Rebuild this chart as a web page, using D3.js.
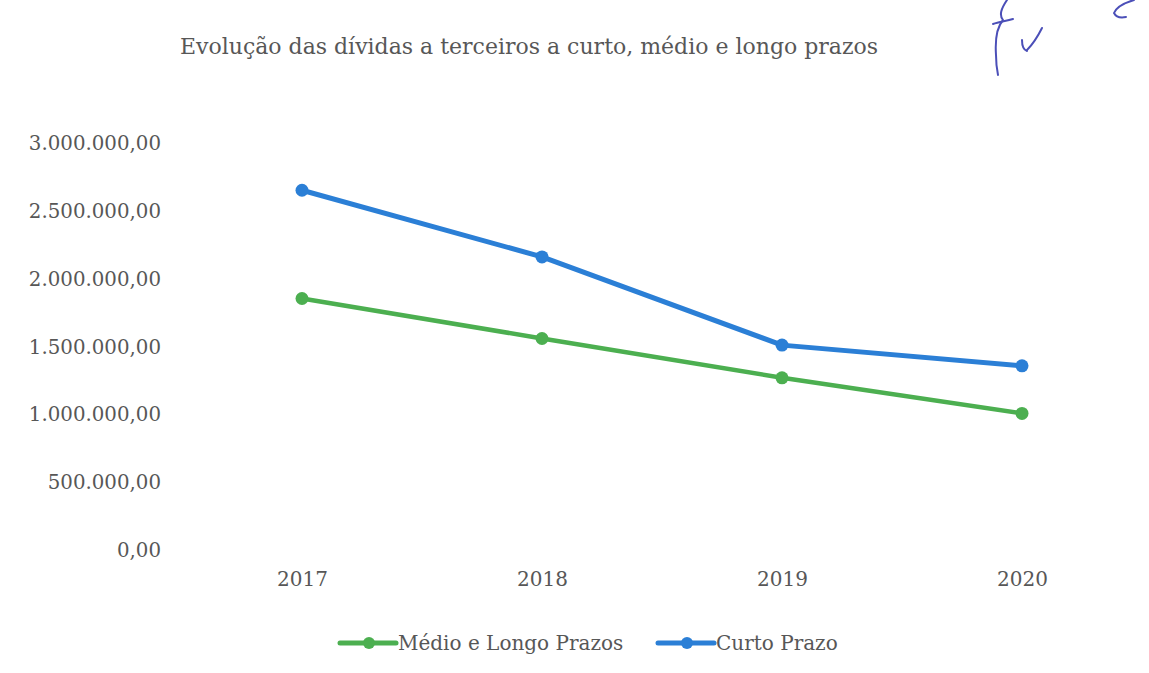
<!DOCTYPE html>
<html>
<head>
<meta charset="utf-8">
<script src="https://cdn.jsdelivr.net/npm/d3@7"></script>
<style>
  html, body { margin: 0; padding: 0; background: #ffffff; }
  svg { display: block; }
  text { font-family: "DejaVu Serif", "Liberation Serif", serif; fill: #575757; }
</style>
</head>
<body>
<svg id="chart" width="1149" height="673"></svg>
<script>
// Dívidas a terceiros (euros) por ano
const years = ["2017", "2018", "2019", "2020"];
const medioLongo = [1856000, 1561000, 1271000, 1008000];
const curto = [2655000, 2163000, 1512000, 1359000];
const yTicks = [0, 500000, 1000000, 1500000, 2000000, 2500000, 3000000];
const seriesNames = ["Médio e Longo Prazos", "Curto Prazo"];
const seriesColors = ["#4caf50", "#2b7fd6"];
const title = "Evolução das dívidas a terceiros a curto, médio e longo prazos";

const svg = d3.select("#chart");

// Portuguese number format: 1.234.567,00
const fmt = d3.formatLocale({ decimal: ",", thousands: ".", grouping: [3], currency: ["", " €"] }).format(",.2f");

const x = d3.scalePoint().domain(years).range([302, 1022]);
const y = d3.scaleLinear().domain([0, 3000000]).range([550, 143.5]);

// Title
svg.append("text")
  .attr("x", 529).attr("y", 54)
  .attr("text-anchor", "middle")
  .style("font-size", "22px")
  .text(title);

// Y axis (labels only)
const yAxis = d3.axisLeft(y).tickValues(yTicks).tickFormat(fmt).tickSize(0).tickPadding(0);
const gy = svg.append("g").attr("transform", "translate(161,0)").call(yAxis);
gy.select(".domain").remove();
gy.selectAll("text")
  .attr("fill", "#575757")
  .style("font-size", "19.8px")
  .style("font-family", '"DejaVu Serif", serif');

// X axis (labels only)
const xAxis = d3.axisBottom(x).tickSize(0).tickPadding(0);
const gx = svg.append("g").attr("transform", "translate(0,572)").call(xAxis);
gx.select(".domain").remove();
gx.selectAll("text")
  .attr("fill", "#575757")
  .style("font-size", "20px")
  .style("font-family", '"DejaVu Serif", serif');

// Lines and markers
const data = [medioLongo, curto];
const line = d3.line().x((d, i) => x(years[i])).y(d => y(d));

data.forEach((vals, s) => {
  svg.append("path")
    .datum(vals)
    .attr("d", line)
    .attr("fill", "none")
    .attr("stroke", seriesColors[s])
    .attr("stroke-width", s === 1 ? 5 : 4.5)
    .attr("stroke-linejoin", "round")
    .attr("stroke-linecap", "round");
  svg.append("g").selectAll("circle")
    .data(vals)
    .join("circle")
    .attr("cx", (d, i) => x(years[i]))
    .attr("cy", d => y(d))
    .attr("r", 6.5)
    .attr("fill", seriesColors[s]);
});

// Legend
const legendItems = [
  { x0: 340, name: seriesNames[0], color: seriesColors[0] },
  { x0: 658, name: seriesNames[1], color: seriesColors[1] }
];
const ly = 643;
legendItems.forEach(it => {
  const g = svg.append("g");
  g.append("line")
    .attr("x1", it.x0).attr("x2", it.x0 + 56)
    .attr("y1", ly).attr("y2", ly)
    .attr("stroke", it.color).attr("stroke-width", 5).attr("stroke-linecap", "round");
  g.append("circle").attr("cx", it.x0 + 29).attr("cy", ly).attr("r", 6).attr("fill", it.color);
  g.append("text")
    .attr("x", it.x0 + 58).attr("y", ly + 7)
    .style("font-size", "20px")
    .text(it.name);
});

// Handwritten rubric in the top right corner
const ink = "#4b4fb8";
const rubric = svg.append("g").attr("fill", "none").attr("stroke", ink)
  .attr("stroke-width", 2).attr("stroke-linecap", "round").attr("stroke-linejoin", "round");
rubric.append("path").attr("d", "M1007,0 C1001,9 999,15 1003,20 C997,27 995,40 996,55 C996,64 997,70 998,75");
rubric.append("path").attr("d", "M993,24 C999,22 1006,21 1013,19");
rubric.append("path").attr("d", "M1027,50 C1031,46 1037,38 1042,28");
rubric.append("path").attr("d", "M1022,40 C1022,46 1024,50 1027,51");
rubric.append("path").attr("d", "M1134,0 C1124,3 1116,8 1114,13 C1116,17 1121,18 1126,17");
</script>
</body>
</html>
